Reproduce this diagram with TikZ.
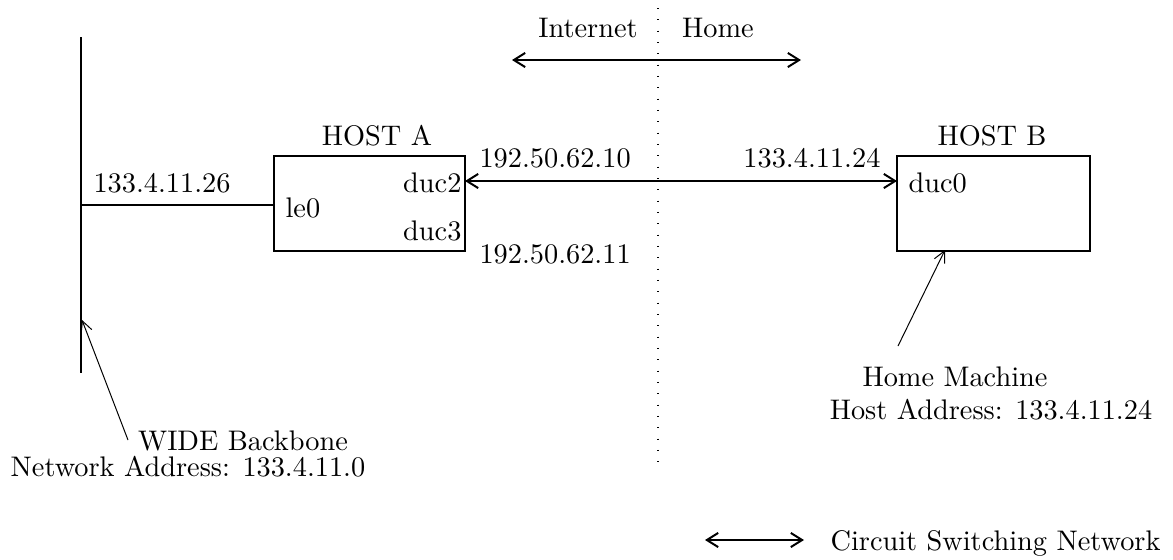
\documentclass[tikz,border=0pt]{standalone}
\usetikzlibrary{arrows.meta}
\begin{document}
\begin{tikzpicture}[x=0.353pt,y=-0.353pt,
  lbl/.style={inner sep=0pt,font=\fontsize{10}{12}\selectfont},
  box/.style={draw,line width=0.7pt,inner sep=0pt},
  net/.style={line width=0.7pt,{Straight Barb[length=4pt,width=5pt]}-{Straight Barb[length=4pt,width=5pt]}},
  ptr/.style={line width=0.35pt,-{Straight Barb[length=4pt,width=4pt]}}]
\useasboundingbox (0,0) rectangle (1173,559);
% dotted separator
\coordinate (dtop) at (658,8);
\coordinate (dbot) at (658,462);
\draw[line width=0.5pt,dash pattern=on 0.4pt off 3.6pt] (dtop) -- (dbot);
% top arrow
\coordinate (tl) at (512,60);
\coordinate (tr) at (801,60);
\draw[net] (tl) -- (tr);
\node[lbl] (inet) at (588,28) {Internet};
\node[lbl] (home) at (718,28) {Home};
% backbone
\coordinate (bbtop) at (81,37);
\coordinate (bbbot) at (81,373);
\draw[line width=0.7pt] (bbtop) -- (bbbot);
\coordinate (bbj) at (81,205);
% boxes
\node[box,minimum width=191*0.353pt,minimum height=95*0.353pt] (A) at (369.5,203.5) {};
\node[box,minimum width=193*0.353pt,minimum height=95*0.353pt] (B) at (993.5,203.5) {};
\node[lbl] (hostA) at (377,136) {HOST A};
\node[lbl] (hostB) at (992,136) {HOST B};
\draw[line width=0.7pt] (bbj) -- (bbj -| A.west);
\node[lbl,anchor=west] (le0) at (285,208) {le0};
\node[lbl,anchor=east] (duc2) at (462,183) {duc2};
\node[lbl,anchor=east] (duc3) at (462,231) {duc3};
\node[lbl,anchor=west] (duc0) at (908,183) {duc0};
\node[lbl,anchor=west] (ip26) at (93,183) {133.4.11.26};
\node[lbl,anchor=west] (ip10) at (479,158) {192.50.62.10};
\node[lbl,anchor=west] (ip11) at (479,254) {192.50.62.11};
\node[lbl,anchor=east] (ip24) at (881,158) {133.4.11.24};
% circuit link
\coordinate (la) at (465,181);
\coordinate (lb) at (897,181);
\draw[net] (la) -- (lb);
% WIDE pointer
\coordinate (wfrom) at (128,440);
\coordinate (wto) at (82,320);
\draw[ptr] (wfrom) -- (wto);
\node[lbl] (wide) at (243,441) {WIDE Backbone};
\node[lbl] (wnet) at (188,467) {Network Address: 133.4.11.0};
% Home pointer
\coordinate (hfrom) at (898,346);
\coordinate (hto) at (945,250);
\draw[ptr] (hfrom) -- (hto);
\node[lbl] (hm) at (955,377) {Home Machine};
\node[lbl] (ha) at (991,410) {Host Address: 133.4.11.24};
% legend
\coordinate (ga) at (705,540);
\coordinate (gb) at (804,540);
\draw[net] (ga) -- (gb);
\node[lbl,anchor=west] (leg) at (830,543) {Circuit Switching Network};
\end{tikzpicture}
\end{document}
